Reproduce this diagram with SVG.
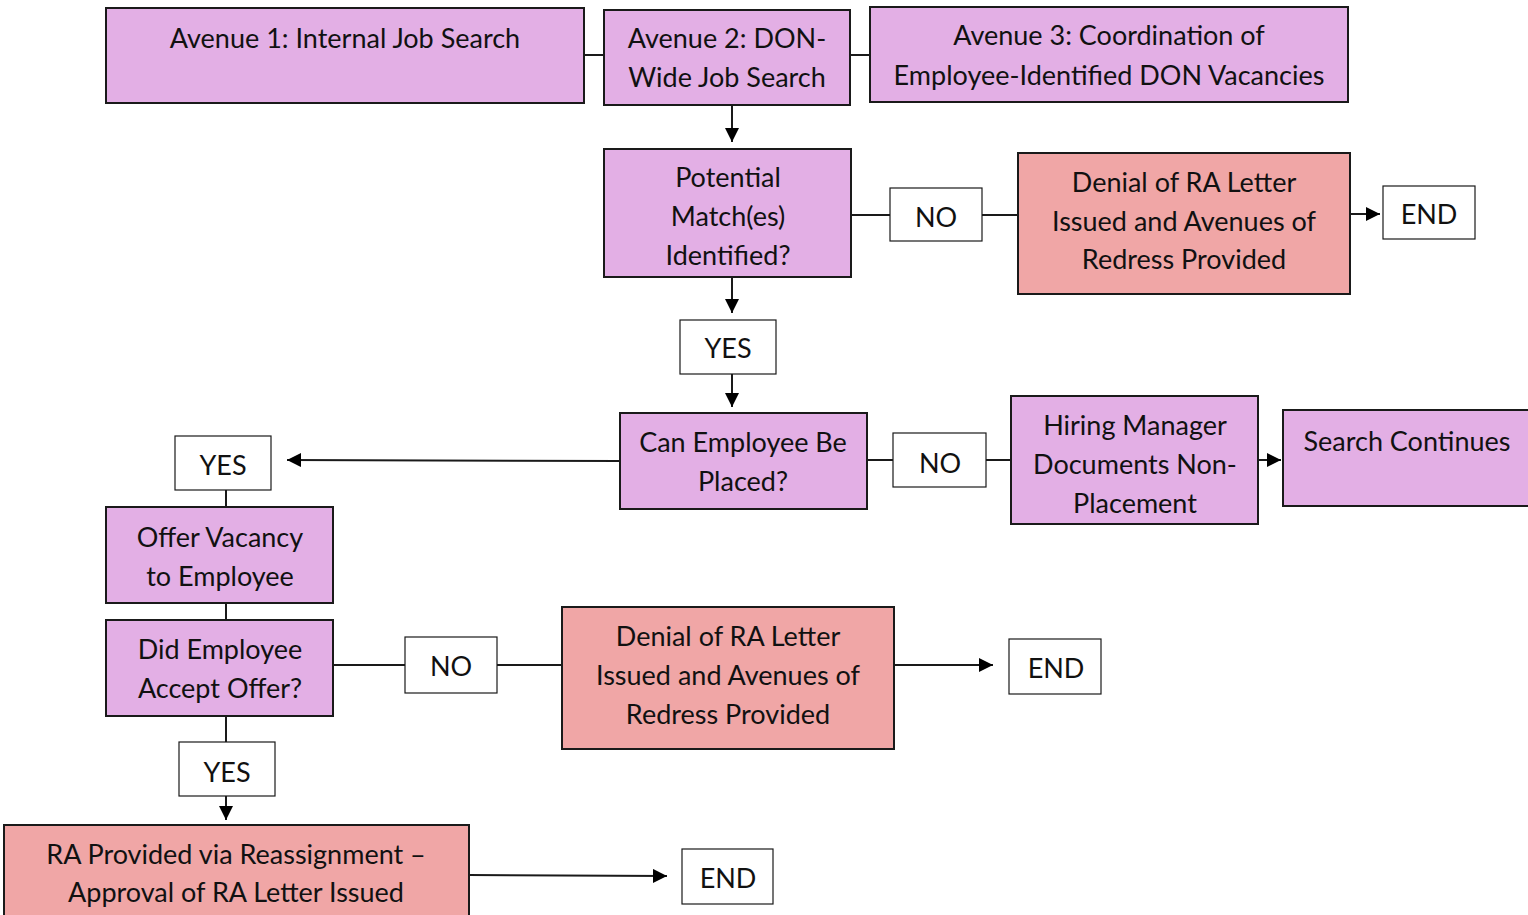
<svg xmlns="http://www.w3.org/2000/svg" width="1528" height="915" viewBox="0 0 1528 915">
<style>
.p{fill:#E3AFE5;stroke:#1a1a1a;stroke-width:2}
.r{fill:#F0A6A6;stroke:#1a1a1a;stroke-width:2}
.w{fill:#ffffff;stroke:#1a1a1a;stroke-width:1.2}
.t{font-family:Lato,"Open Sans","Liberation Sans",sans-serif;font-size:27px;fill:#111;text-anchor:middle}
.c line,.c path{stroke:#1a1a1a;stroke-width:2;fill:none}
</style>
<defs>
<marker id="a" viewBox="0 0 10 10" refX="10" refY="5" markerWidth="14" markerHeight="14" orient="auto" markerUnits="userSpaceOnUse">
<path d="M0,0 L10,5 L0,10 z" fill="#000"/>
</marker>
</defs>
<rect width="1528" height="915" fill="#fff"/>
<g class="c" id="connectors">
<line x1="584" y1="55" x2="604" y2="55"/>
<line x1="850" y1="55" x2="870" y2="55"/>
<line x1="732" y1="105" x2="732" y2="142" marker-end="url(#a)"/>
<line x1="851" y1="215" x2="890" y2="215"/>
<line x1="982" y1="215" x2="1018" y2="215"/>
<line x1="1350" y1="214" x2="1380" y2="214" marker-end="url(#a)"/>
<line x1="732" y1="277" x2="732" y2="313" marker-end="url(#a)"/>
<line x1="732" y1="374" x2="732" y2="407" marker-end="url(#a)"/>
<line x1="867" y1="460" x2="893" y2="460"/>
<line x1="986" y1="460" x2="1011" y2="460"/>
<line x1="1258" y1="460" x2="1281" y2="460" marker-end="url(#a)"/>
<line x1="620" y1="461" x2="287" y2="460" marker-end="url(#a)"/>
<line x1="226" y1="490" x2="226" y2="507"/>
<line x1="226" y1="603" x2="226" y2="620"/>
<line x1="333" y1="665" x2="405" y2="665"/>
<line x1="497" y1="665" x2="562" y2="665"/>
<line x1="894" y1="665" x2="993" y2="665" marker-end="url(#a)"/>
<line x1="226" y1="716" x2="226" y2="742"/>
<line x1="226" y1="796" x2="226" y2="820" marker-end="url(#a)"/>
<line x1="469" y1="875" x2="667" y2="876" marker-end="url(#a)"/>
</g>
<g id="avenue1"><rect class="p" x="106" y="8" width="478" height="95"/><text class="t" x="345" y="48">Avenue 1: Internal Job Search</text></g>
<g id="avenue2"><rect class="p" x="604" y="10" width="246" height="95"/><text class="t" x="727" y="48">Avenue 2: DON-</text><text class="t" x="727" y="87">Wide Job Search</text></g>
<g id="avenue3"><rect class="p" x="870" y="7" width="478" height="95"/><text class="t" x="1109" y="45">Avenue 3: Coordination of</text><text class="t" x="1109" y="85">Employee-Identified DON Vacancies</text></g>
<g id="potential"><rect class="p" x="604" y="149" width="247" height="128"/><text class="t" x="728" y="187">Potential</text><text class="t" x="728" y="226">Match(es)</text><text class="t" x="728" y="265">Identified?</text></g>
<g id="no1"><rect class="w" x="890" y="188" width="92" height="53"/><text class="t" x="936" y="227">NO</text></g>
<g id="denial1"><rect class="r" x="1018" y="153" width="332" height="141"/><text class="t" x="1184" y="192">Denial of RA Letter</text><text class="t" x="1184" y="231">Issued and Avenues of</text><text class="t" x="1184" y="269">Redress Provided</text></g>
<g id="end1"><rect class="w" x="1383" y="186" width="92" height="53"/><text class="t" x="1429" y="224">END</text></g>
<g id="yes1"><rect class="w" x="680" y="320" width="96" height="54"/><text class="t" x="728" y="358">YES</text></g>
<g id="canplace"><rect class="p" x="620" y="413" width="247" height="96"/><text class="t" x="743" y="452">Can Employee Be</text><text class="t" x="743" y="491">Placed?</text></g>
<g id="no2"><rect class="w" x="893" y="433" width="93" height="54"/><text class="t" x="940" y="473">NO</text></g>
<g id="hiring"><rect class="p" x="1011" y="396" width="247" height="128"/><text class="t" x="1135" y="435">Hiring Manager</text><text class="t" x="1135" y="474">Documents Non-</text><text class="t" x="1135" y="513">Placement</text></g>
<g id="search"><rect class="p" x="1283" y="410" width="250" height="96"/><text class="t" x="1407" y="451">Search Continues</text></g>
<g id="yes2"><rect class="w" x="175" y="436" width="96" height="54"/><text class="t" x="223" y="475">YES</text></g>
<g id="offer"><rect class="p" x="106" y="507" width="227" height="96"/><text class="t" x="220" y="547">Offer Vacancy</text><text class="t" x="220" y="586">to Employee</text></g>
<g id="accept"><rect class="p" x="106" y="620" width="227" height="96"/><text class="t" x="220" y="659">Did Employee</text><text class="t" x="220" y="698">Accept Offer?</text></g>
<g id="no3"><rect class="w" x="405" y="637" width="92" height="56"/><text class="t" x="451" y="676">NO</text></g>
<g id="denial2"><rect class="r" x="562" y="607" width="332" height="142"/><text class="t" x="728" y="646">Denial of RA Letter</text><text class="t" x="728" y="685">Issued and Avenues of</text><text class="t" x="728" y="724">Redress Provided</text></g>
<g id="end2"><rect class="w" x="1009" y="639" width="92" height="55"/><text class="t" x="1056" y="678">END</text></g>
<g id="yes3"><rect class="w" x="179" y="742" width="96" height="54"/><text class="t" x="227" y="782">YES</text></g>
<g id="ra"><rect class="r" x="4" y="825" width="465" height="100"/><text class="t" x="236" y="864">RA Provided via Reassignment –</text><text class="t" x="236" y="902">Approval of RA Letter Issued</text></g>
<g id="end3"><rect class="w" x="682" y="849" width="91" height="55"/><text class="t" x="728" y="888">END</text></g>
</svg>
